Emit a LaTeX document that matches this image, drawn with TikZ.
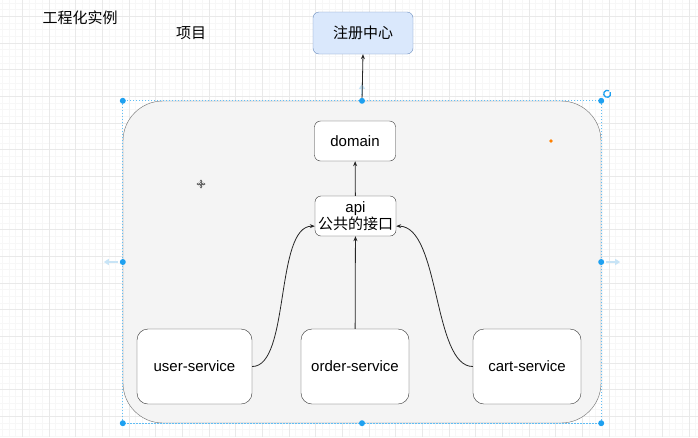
\documentclass[tikz,border=0pt]{standalone}
\usepackage{fontspec}
\setmainfont{Liberation Sans}
\newfontfamily\cjk{Noto Sans CJK SC}
\usetikzlibrary{arrows.meta, positioning, calc}
\definecolor{regfill}{RGB}{218, 232, 252}
\definecolor{regline}{RGB}{108, 142, 191}
\definecolor{groupfill}{RGB}{244, 244, 244}
\definecolor{groupline}{RGB}{110, 110, 110}
\definecolor{selblue}{RGB}{30, 160, 240}
\definecolor{hoverblue}{RGB}{200, 228, 246}
\definecolor{gridminor}{RGB}{247, 247, 247}
\definecolor{gridmajor}{RGB}{233, 233, 233}
\tikzset{
  label text/.style={
    font=\cjk\fontsize{15}{18}\selectfont,
    inner sep=0pt
  },
  module/.style={
    draw=black!80,
    fill=white,
    rounded corners=6pt,
    minimum width=81pt,
    minimum height=40pt,
    inner sep=1pt,
    align=center,
    font=\fontsize{15}{19}\selectfont
  },
  service/.style={
    module,
    rounded corners=11pt,
    minimum width=108pt,
    minimum height=75pt
  },
  registry/.style={
    module,
    draw=regline,
    fill=regfill,
    minimum width=100pt,
    minimum height=42pt
  },
  group/.style={
    draw=groupline,
    fill=groupfill,
    rounded corners=40pt,
    minimum width=478pt,
    minimum height=322pt
  },
  link/.style={
    -{Stealth[length=5pt, width=4pt]},
    draw=black!85,
    line width=0.8pt
  },
  selframe/.style={
    draw=selblue!70,
    dash pattern=on 1.5pt off 1.5pt,
    line width=0.7pt
  },
  handle/.style={
    fill=selblue
  },
  hover/.style={
    -{Triangle[length=5pt, width=6pt]},
    draw=hoverblue,
    line width=2pt
  }
}

\begin{document}
\begin{tikzpicture}[x=1pt, y=-1pt]
  \clip (0,0) rectangle (698,437);
  \fill[white] (0,0) rectangle (698,437);
  % grid
  \foreach \i in {0,...,105}
    \draw[gridminor, line width=0.6pt] ({2.3+\i*6.667},0) -- ({2.3+\i*6.667},437);
  \foreach \i in {0,...,66}
    \draw[gridminor, line width=0.6pt] (0,{3+\i*6.667}) -- (698,{3+\i*6.667});
  \foreach \i in {0,...,26}
    \draw[gridmajor, line width=0.7pt] ({22.3+\i*26.667},0) -- ({22.3+\i*26.667},437);
  \foreach \i in {0,...,16}
    \draw[gridmajor, line width=0.7pt] (0,{16.3+\i*26.667}) -- (698,{16.3+\i*26.667});

  \node[label text] (title) at (80,18) {工程化实例};
  \node[label text] (proj) at (191,33) {项目};
  \node[registry, font=\cjk\fontsize{15}{19}\selectfont] (reg) at (363,33) {注册中心};

  \node[group] (project) at (362,262) {};

  \node[module] (domain) at (355,141) {domain};
  \node[module, font=\fontsize{15}{18}\selectfont] (api) at (355.5,216) {api\\[-1pt]{\cjk 公共的接口}};
  \node[service, minimum width=115pt] (user) at (194.5,366.5) {user-service};
  \node[service] (order) at (355,366.5) {order-service};
  \node[service] (cart) at (527,366.5) {cart-service};

  \draw[hover] ([yshift=6pt]project.north) -- ++(0,-11);
  \draw[link] (project.north) -- (reg.south);
  \draw[link] (api) -- (domain);
  \draw[link] (order) -- (api);
  \draw[link] (user.east) .. controls +(38,0) and +(-40,0) .. (api.194);
  \draw[link] (cart.west) .. controls +(-40,0) and +(44,0) .. (api.-14);

  % selection of the group
  \draw[selframe] (project.north west) rectangle (project.south east);
  \foreach \a in {north west, north, north east, west, east, south west, south, south east}
    \fill[handle] (project.\a) circle (3pt);
  \draw[hover] ([xshift=-5pt]project.west) -- ++(-14,0);
  \draw[hover] ([xshift=5pt]project.east) -- ++(14,0);
  \draw[selblue, line width=1.3pt] ($(project.north east)+(6,-7)$) ++(60:3.5pt) arc (60:390:3.5pt);
  \fill[orange] (551,141) circle (1.8pt);

  % move cursor
  \begin{scope}[shift={(201,184)}, draw=black!60, line width=0.7pt]
    \foreach \d in {0,90,180,270}
      \draw[-{Stealth[length=2.2pt, width=3pt]}] (0,0) -- (\d:4.5pt);
    \draw (0,0) circle (1.8pt);
  \end{scope}
\end{tikzpicture}
\end{document}
